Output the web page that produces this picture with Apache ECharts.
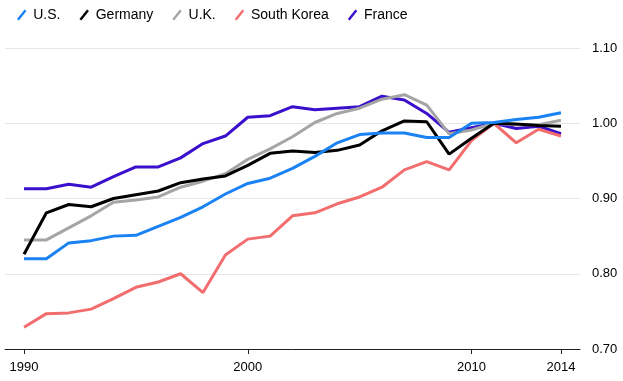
<!DOCTYPE html>
<html>
<head>
<meta charset="utf-8">
<script src="https://cdn.jsdelivr.net/npm/echarts@6/dist/echarts.min.js"></script>
<style>html,body{margin:0;padding:0;background:#fff;}#chart{width:623px;height:381px;}</style>
</head>
<body>
<div id="chart"></div>
<script>
const years = [1990,1991,1992,1993,1994,1995,1996,1997,1998,1999,2000,2001,2002,2003,2004,2005,2006,2007,2008,2009,2010,2011,2012,2013,2014];
const xTickYears = [1990, 2000, 2010, 2014];
const yTicks = [0.70, 0.80, 0.90, 1.00, 1.10];
const seriesNames = ['U.S.', 'Germany', 'U.K.', 'South Korea', 'France'];
const us = [0.820,0.820,0.841,0.844,0.850,0.851,0.863,0.875,0.889,0.906,0.920,0.927,0.940,0.956,0.974,0.985,0.987,0.987,0.981,0.981,1.000,1.001,1.005,1.008,1.014];
const germany = [0.826,0.881,0.892,0.889,0.900,0.905,0.910,0.921,0.926,0.930,0.944,0.960,0.963,0.961,0.964,0.971,0.990,1.003,1.002,0.959,0.980,1.000,0.999,0.997,0.996];
const uk = [0.845,0.845,0.861,0.877,0.895,0.898,0.902,0.915,0.923,0.933,0.952,0.966,0.982,1.001,1.013,1.020,1.032,1.038,1.024,0.986,0.991,1.000,0.998,0.998,1.004];
const southKorea = [0.729,0.747,0.748,0.753,0.767,0.782,0.789,0.800,0.775,0.825,0.846,0.850,0.877,0.881,0.893,0.902,0.915,0.938,0.949,0.938,0.977,1.000,0.974,0.992,0.983];
const france = [0.913,0.913,0.919,0.915,0.929,0.942,0.942,0.954,0.973,0.983,1.008,1.010,1.022,1.018,1.020,1.022,1.036,1.031,1.013,0.988,0.994,1.000,0.993,0.996,0.986];

const colors = ['#1a82f2', '#000000', '#a5a5a5', '#f26d6d', '#3a10cc'];
const values = [us, germany, uk, southKorea, france];
const font = "'Liberation Sans', Arial, Helvetica, sans-serif";

const chart = echarts.init(document.getElementById('chart'));
chart.setOption({
  animation: false,
  color: colors,
  legend: {
    data: seriesNames,
    left: 12,
    top: 3,
    itemWidth: 11,
    itemHeight: 11,
    itemGap: 19,
    icon: 'path://M0,10 L8,0 L10,1.6 L2,11.6 Z',
    textStyle: { fontSize: 14, color: '#000', fontFamily: font, padding: [0, 0, 0, 1] }
  },
  grid: { left: 5, right: 43, top: 48, bottom: 32 },
  xAxis: {
    type: 'value',
    min: 1989.15,
    max: 2014.85,
    splitLine: { show: false },
    axisLine: { show: true, lineStyle: { color: '#222', width: 1 } },
    axisTick: { show: true, customValues: xTickYears, length: 5, lineStyle: { color: '#222' } },
    axisLabel: { customValues: xTickYears, margin: 12, fontSize: 13, color: '#000', fontFamily: font, formatter: v => String(v) }
  },
  yAxis: {
    type: 'value',
    position: 'right',
    min: 0.7,
    max: 1.1,
    interval: 0.1,
    axisLine: { show: false },
    axisTick: { show: false },
    splitLine: { show: true, lineStyle: { color: '#e6e6e6', width: 1 } },
    axisLabel: { margin: 12, fontSize: 13, color: '#000', fontFamily: font, formatter: v => v.toFixed(2) }
  },
  series: seriesNames.map((name, i) => ({
    name: name,
    type: 'line',
    data: years.map((y, j) => [y, values[i][j]]),
    showSymbol: false,
    symbol: 'none',
    lineStyle: { width: 3, color: colors[i] },
    itemStyle: { color: colors[i] },
    z: 10 - i
  }))
});
</script>
</body>
</html>
